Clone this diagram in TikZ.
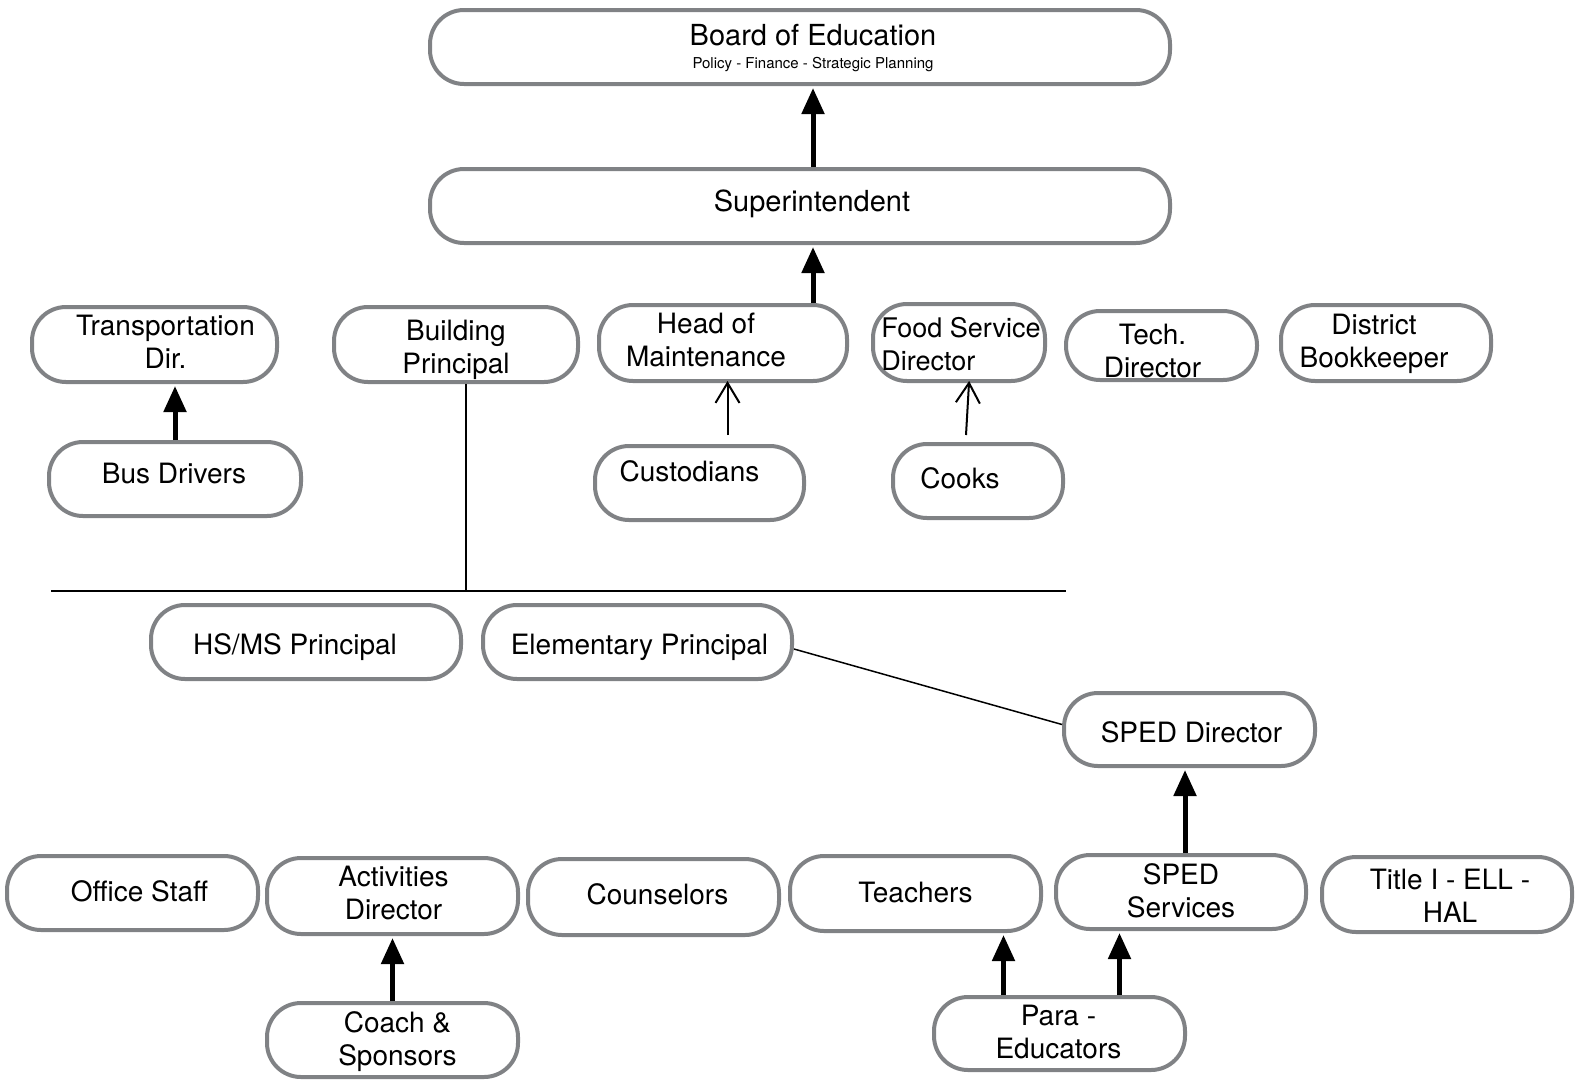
\documentclass[tikz,border=0pt]{standalone}
\usepackage{fontspec}
\setmainfont{TeX Gyre Heros}
\usetikzlibrary{arrows.meta}
\definecolor{boxgray}{RGB}{128,130,133}
% text set off the centre of its box: right by #1, up by #2
\newcommand\offtext[3]{\raisebox{#2}[\height][\depth]{\hspace*{#1}\begin{tabular}{@{}c@{}}#3\end{tabular}\hspace*{-#1}}}

\begin{document}
\begin{tikzpicture}[x=1pt,y=-1pt,
  box/.style={draw=boxgray, line width=4pt, rounded corners=34pt, align=center,
    inner sep=0pt, font=\fontsize{28}{33}\selectfont},
  uparrow/.style={line width=5pt, shorten >=2pt, -{Triangle[width=22pt,length=26pt]}},
  thinarrow/.style={line width=2pt, shorten >=-2pt, -{Straight Barb[width=24pt,length=20pt]}},
  rule/.style={line width=1.5pt}]
  \useasboundingbox (0,0) rectangle (1581,1080);
  % top of the district
  \node[box, minimum width=740pt, minimum height=74pt] at (800,47) (board)
    {\offtext{13pt}{-3pt}{\fontsize{29}{32}\selectfont Board of Education\\[-10pt]{\fontsize{15}{17}\selectfont Policy - Finance - Strategic Planning}}};
  \node[box, minimum width=740pt, minimum height=74pt] at (800,206) (super)
    {\offtext{12pt}{1pt}{\fontsize{29}{32}\selectfont Superintendent}};
  % directors
  \node[box, minimum width=245pt, minimum height=75pt] at (154.5,344.5) (trans) {\offtext{11pt}{-1pt}{Transportation\\Dir.}};
  \node[box, minimum width=244pt, minimum height=75pt] at (456,344.5) (bldg) {\offtext{0pt}{-5.5pt}{Building\\Principal}};
  \node[box, minimum width=248pt, minimum height=76pt] at (723,343) (head) {\offtext{-17pt}{0pt}{Head of\\Maintenance}};
  \node[box, minimum width=172pt, minimum height=77pt, align=left] at (959,342.5) (food)
    {\fontsize{27}{33}\selectfont\raisebox{-5pt}[\height][\depth]{\hspace*{4pt}\begin{tabular}{@{}l@{}}Food Service\\Director\end{tabular}}};
  \node[box, minimum width=191pt, minimum height=69pt] at (1161.5,345.5) (tech) {\offtext{-9pt}{-9pt}{Tech.\\Director}};
  \node[box, minimum width=210pt, minimum height=76pt] at (1386,343) (bookk) {\offtext{-12pt}{-1pt}{District\\Bookkeeper}};
  \node[box, minimum width=252pt, minimum height=74pt] at (175,479) (bus) {\offtext{-1pt}{2pt}{Bus Drivers}};
  \node[box, minimum width=209pt, minimum height=74pt] at (699.5,483) (cust) {\offtext{-10pt}{8pt}{Custodians}};
  \node[box, minimum width=170pt, minimum height=74pt] at (978,481) (cooks) {\offtext{-18pt}{-1pt}{Cooks}};
  % principals
  \coordinate (railL) at (51,591);
  \coordinate (railR) at (1066,591);
  \node[box, minimum width=310pt, minimum height=74pt] at (306,642) (hsms) {\offtext{-11pt}{-6pt}{HS/MS Principal}};
  \node[box, minimum width=309pt, minimum height=74pt] at (637.5,642) (elem) {\offtext{2pt}{-6pt}{Elementary Principal}};
  \node[box, minimum width=251pt, minimum height=73pt] at (1189.5,729.5) (sped) {\offtext{2pt}{-6pt}{SPED Director}};
  % staff
  \node[box, minimum width=251pt, minimum height=74pt] at (132.5,893) (office) {\offtext{7pt}{-2pt}{Office Staff}};
  \node[box, minimum width=251pt, minimum height=76pt] at (392.5,896) (act) {\offtext{1pt}{0pt}{Activities\\Director}};
  \node[box, minimum width=251pt, minimum height=76pt] at (653.5,897) (couns) {\offtext{4pt}{-1pt}{Counselors}};
  \node[box, minimum width=251pt, minimum height=75pt] at (915.5,893.5) (teach) {\offtext{0pt}{-2pt}{Teachers}};
  \node[box, minimum width=250pt, minimum height=74pt] at (1181,892) (spdserv) {\offtext{0pt}{-2pt}{SPED\\Services}};
  \node[box, minimum width=250pt, minimum height=75pt] at (1447,894.5) (title) {\offtext{3pt}{-5pt}{Title I - ELL -\\HAL}};
  \node[box, minimum width=251pt, minimum height=74pt] at (392.5,1040) (coach) {\offtext{5pt}{-2pt}{Coach \&\\Sponsors}};
  \node[box, minimum width=251pt, minimum height=73pt] at (1059.5,1033.5) (para) {\offtext{-1pt}{-2pt}{Para -\\Educators}};
  % connectors
  \draw[uparrow] ([xshift=13pt]super.north) -- ([xshift=13pt]board.south);
  \draw[uparrow] ([xshift=13pt]super.south |- head.north) -- ([xshift=13pt]super.south);
  \draw[uparrow] (bus.north) -- (bus.north |- trans.south);
  \draw[thinarrow] ([xshift=28pt,yshift=9pt]cust.north) -- ([xshift=28pt]cust.north |- head.south);
  \draw[thinarrow] ([xshift=-12pt,yshift=7pt]cooks.north) -- ([xshift=10pt]food.south);
  \draw[rule] (railL) -- (railR);
  \draw[rule] ([xshift=10pt]bldg.south) -- ([xshift=10pt]bldg.south |- railL);
  \draw[rule] ([yshift=-7pt]elem.east) -- ([yshift=5pt]sped.west);
  \draw[uparrow] ([xshift=4pt]spdserv.north) -- ([xshift=4pt]spdserv.north |- sped.south);
  \draw[uparrow] (coach.north) -- (coach.north |- act.south);
  \draw[uparrow] ([xshift=-56pt]para.north) -- ([xshift=-56pt]para.north |- teach.south);
  \draw[uparrow] ([xshift=60pt]para.north) -- ([xshift=60pt]para.north |- spdserv.south);
\end{tikzpicture}
\end{document}
